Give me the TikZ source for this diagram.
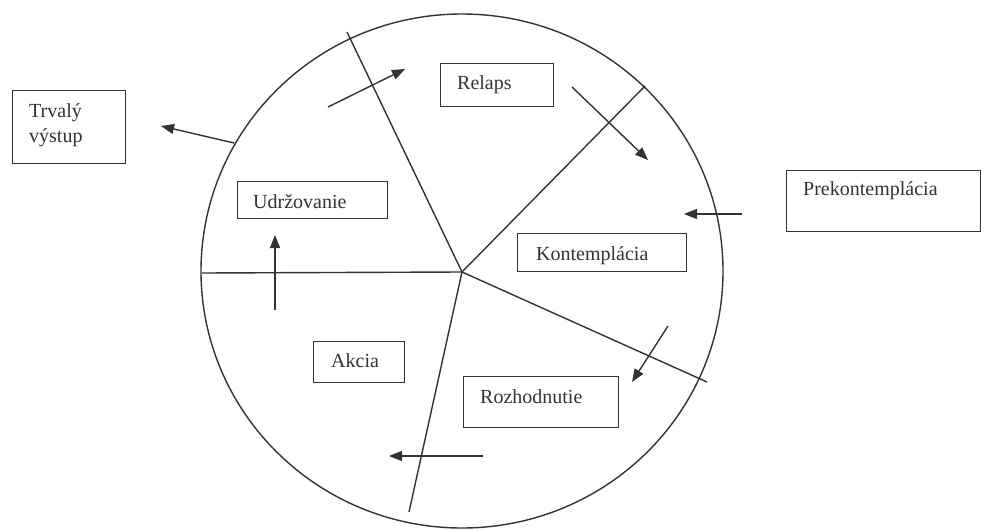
\documentclass[tikz,border=0pt]{standalone}
\usepackage{fontspec}
\setmainfont{Liberation Serif}
\usetikzlibrary{arrows.meta}
\definecolor{ink}{HTML}{333333}
\tikzset{
  box/.style={draw=ink, line width=1.2pt, rectangle, inner sep=0pt, anchor=north west},
  txt/.style={text=ink, font=\fontsize{20}{24}\selectfont, inner sep=0pt, anchor=base west},
  spoke/.style={draw=ink, line width=1.4pt},
  flow/.style={draw=ink, line width=1.4pt, -{Triangle[length=13pt, width=10pt]}}
}
\begin{document}
\begin{tikzpicture}[x=1pt, y=-1pt]
\useasboundingbox (0,0) rectangle (990,530);
\fill[white] (0,0) rectangle (990,530);
% circle
\draw[ink, line width=1.4pt] (462,271) ellipse [x radius=261, y radius=257];
% spokes
\coordinate (c) at (462,272);
\coordinate (sL) at (202,273);
\coordinate (sUL) at (347,32);
\coordinate (sUR) at (645,86);
\coordinate (sLR) at (707,382);
\coordinate (sB) at (409,512);
\draw[spoke] (c) -- (sL);
\draw[spoke] (c) -- (sUL);
\draw[spoke] (c) -- (sUR);
\draw[spoke] (c) -- (sLR);
\draw[spoke] (c) -- (sB);
% boxes
\node[box, minimum width=113pt, minimum height=73pt] (trv) at (12,90) {};
\node[txt] (trvT1) at (29,117) {Trvalý};
\node[txt] (trvT2) at (29,142) {výstup};
\node[box, minimum width=113pt, minimum height=43pt] (rel) at (440,63) {};
\node[txt] (relT) at (457,89) {Relaps};
\node[box, minimum width=194pt, minimum height=61pt] (pre) at (786,170) {};
\node[txt] (preT) at (803,195) {Prekontemplácia};
\node[box, minimum width=150pt, minimum height=37pt] (udr) at (237,181) {};
\node[txt] (udrT) at (253,208) {Udržovanie};
\node[box, minimum width=169pt, minimum height=38pt] (kon) at (517,233) {};
\node[txt] (konT) at (536,260) {Kontemplácia};
\node[box, minimum width=91pt, minimum height=41pt] (akc) at (313,341) {};
\node[txt] (akcT) at (331,367) {Akcia};
\node[box, minimum width=155pt, minimum height=51pt] (roz) at (463,376) {};
\node[txt] (rozT) at (480,403) {Rozhodnutie};
% arrows
\coordinate (a1s) at (234,143); \coordinate (a1e) at (161,126);
\coordinate (a2s) at (328,107); \coordinate (a2e) at (405,69);
\coordinate (a3s) at (572,87);  \coordinate (a3e) at (648,160);
\coordinate (a4s) at (742,214); \coordinate (a4e) at (684,214);
\coordinate (a5s) at (668,326); \coordinate (a5e) at (632,382);
\coordinate (a6s) at (483,456); \coordinate (a6e) at (389,456);
\coordinate (a7s) at (275,310); \coordinate (a7e) at (275,235);
\draw[flow] (a1s) -- (a1e);
\draw[flow] (a2s) -- (a2e);
\draw[flow] (a3s) -- (a3e);
\draw[flow] (a4s) -- (a4e);
\draw[flow] (a5s) -- (a5e);
\draw[flow] (a6s) -- (a6e);
\draw[flow] (a7s) -- (a7e);
\end{tikzpicture}
\end{document}
